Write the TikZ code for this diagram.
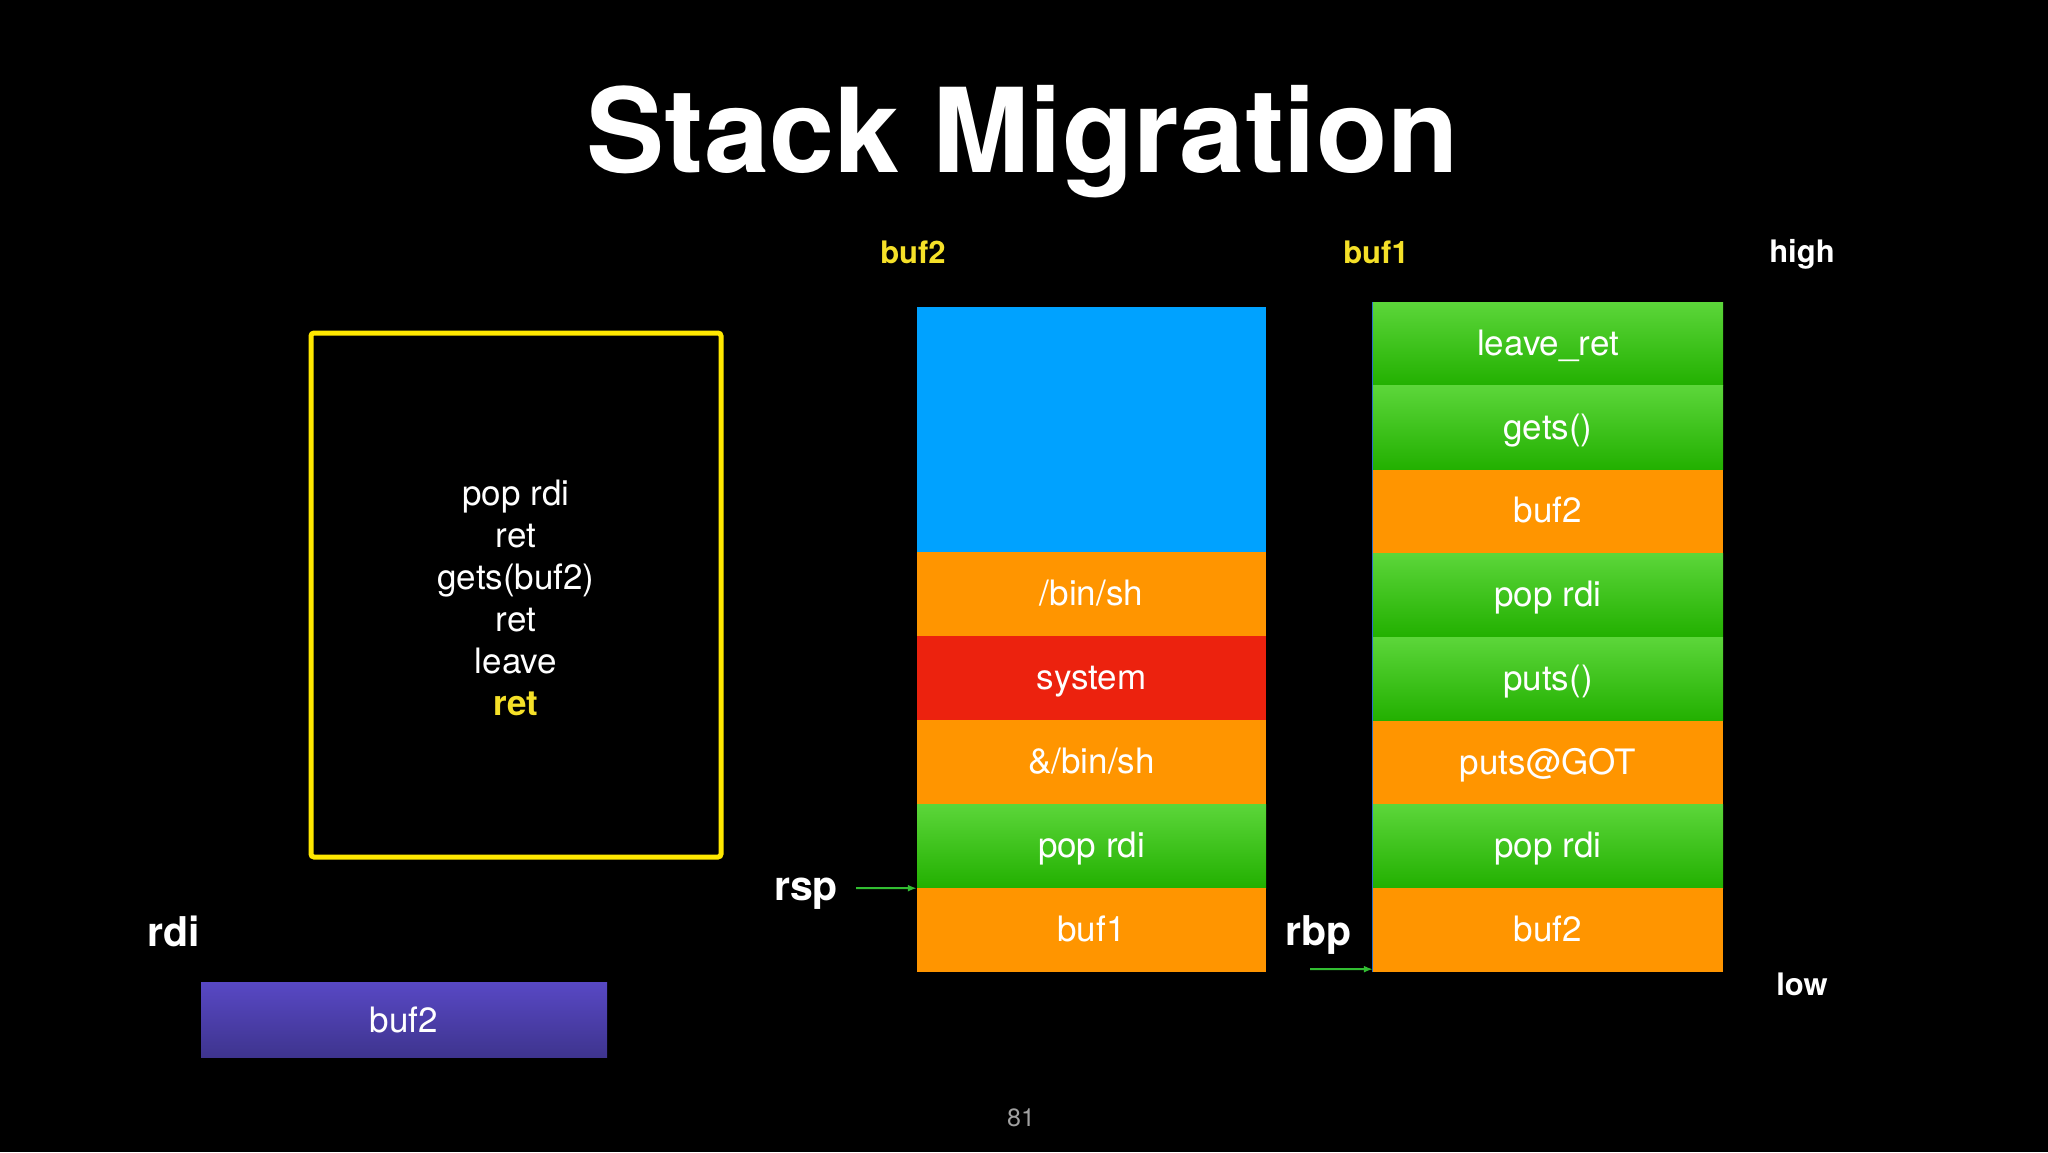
\documentclass[tikz,border=0pt]{standalone}
\usepackage{fontspec}
\setmainfont{TeX Gyre Heros}
\usetikzlibrary{arrows.meta}
\definecolor{orng}{RGB}{255,149,0}
\definecolor{redc}{RGB}{236,34,14}
\definecolor{bluec}{RGB}{0,162,255}
\definecolor{greent}{RGB}{92,214,58}
\definecolor{greenb}{RGB}{34,176,0}
\definecolor{purt}{RGB}{88,72,196}
\definecolor{purb}{RGB}{62,52,142}
\definecolor{yel}{RGB}{255,232,0}
\definecolor{yeltext}{RGB}{245,224,40}
\definecolor{arrowg}{RGB}{50,190,50}
\definecolor{pgnum}{RGB}{160,160,160}
\definecolor{edgeblue}{RGB}{40,110,200}
\begin{document}
\begin{tikzpicture}[x=1pt,y=-1pt,
  cellA/.style={rectangle, inner sep=0pt, minimum width=349pt, minimum height=84pt, text=white, text height=30pt, text depth=7pt, font=\fontsize{35}{42}\selectfont},
  cellB/.style={rectangle, inner sep=0pt, minimum width=350pt, minimum height=83.75pt, text=white, text height=30pt, text depth=7pt, font=\fontsize{35}{42}\selectfont},
  grn/.style={top color=greent, bottom color=greenb},
  org/.style={fill=orng},
  lbl/.style={font=\fontsize{31}{36}\bfseries\selectfont},
  reg/.style={font=\fontsize{41}{48}\bfseries\selectfont, text=white},
  ptr/.style={draw=arrowg, line width=2pt, -{Latex[length=9pt,width=7pt]}}
]
\useasboundingbox[fill=black] (0,0) rectangle (2048,1152);

% title
\node[anchor=base, text=white, font=\fontsize{117}{140}\bfseries\selectfont] (title) at (1023,172) {Stack Migration};

% column labels
\node[lbl, text=yeltext] (lbuf2) at (913,252) {buf2};
\node[lbl, text=yeltext] (lbuf1) at (1376,252) {buf1};
\node[lbl, text=white] (lhigh) at (1802,254) {high};
\node[lbl, text=white] (llow) at (1802,984) {low};

% code box
\node[draw=yel, line width=5pt, rounded corners=3pt, minimum width=410pt, minimum height=524pt] (code) at (516,595) {};
\node[align=center, text=white, font=\fontsize{35}{42}\selectfont] (codetext) at (516,598)
  {pop rdi\\ret\\gets(buf2)\\ret\\leave\\{\color{yeltext}\bfseries ret}};

% buf2 stack
\node[rectangle, inner sep=0pt, minimum width=349pt, minimum height=245pt, fill=bluec] (s2blue) at (1091.5,429.5) {};
\node[cellA, org] (s2binsh) at (1091.5,594) {/bin/sh};
\node[cellA, fill=redc] (s2sys) at (1091.5,678) {system};
\node[cellA, org] (s2amp) at (1091.5,762) {\&/bin/sh};
\node[cellA, grn] (s2pop) at (1091.5,846) {pop rdi};
\node[cellA, org] (s2buf1) at (1091.5,930) {buf1};

% buf1 stack
\node[cellB, grn] (s1leave) at (1548,343.9) {leave\_ret};
\node[cellB, grn] (s1gets) at (1548,427.6) {gets()};
\node[cellB, org] (s1buf2a) at (1548,511.4) {buf2};
\node[cellB, grn] (s1popa) at (1548,595.1) {pop rdi};
\node[cellB, grn] (s1puts) at (1548,678.9) {puts()};
\node[cellB, org] (s1got) at (1548,762.6) {puts@GOT};
\node[cellB, grn] (s1popb) at (1548,846.4) {pop rdi};
\node[cellB, org] (s1buf2b) at (1548,930.1) {buf2};
\draw[edgeblue, line width=1pt] (s1leave.north west) -- (s1buf2b.south west);

% registers
\node[reg] (rsp) at (806,894) {rsp};
\coordinate (rspfrom) at (856,888);
\draw[ptr] (rspfrom) -- (s2pop.south west);

\node[reg] (rbp) at (1319,935) {rbp};
\coordinate (rbpfrom) at (1310,969);
\draw[ptr] (rbpfrom) -- ([yshift=3pt]s1buf2b.south west);

\node[reg] (rdi) at (174,931) {rdi};
\node[rectangle, inner sep=0pt, minimum width=406pt, minimum height=75pt, top color=purt, bottom color=purb, text=white,
      font=\fontsize{35}{42}\selectfont] (rdival) at (404,1020) {buf2};

% page number
\node[text=pgnum, font=\fontsize{25}{30}\selectfont] (pg) at (1021,1118) {81};
\end{tikzpicture}
\end{document}
